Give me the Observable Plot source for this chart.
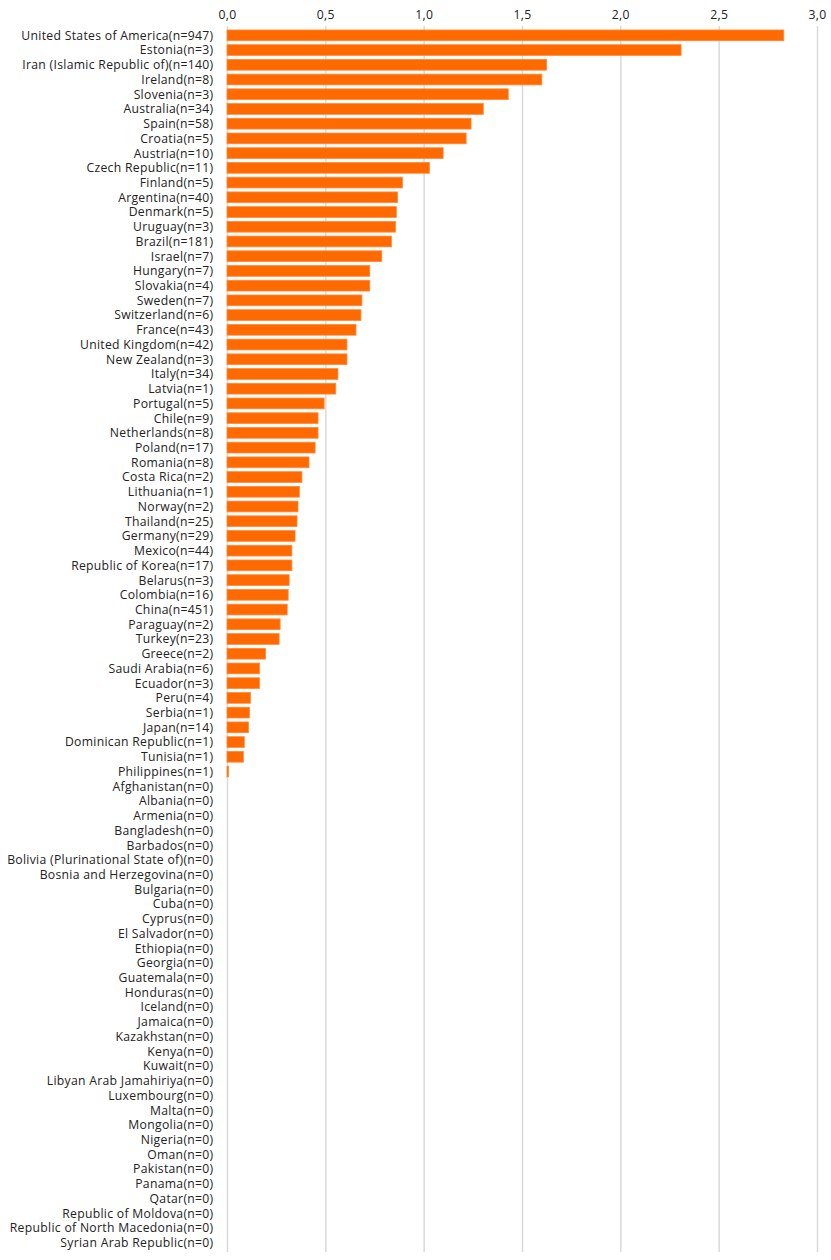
<!DOCTYPE html>
<html>
<head>
<meta charset="utf-8">
<script src="https://cdn.jsdelivr.net/npm/d3@7"></script>
<script src="https://cdn.jsdelivr.net/npm/@observablehq/plot@0.6"></script>
<style>
  html, body { margin: 0; padding: 0; background: #fff; }
  #chart svg { display: block; }
</style>
</head>
<body>
<div id="chart"></div>
<script>
const countries = [
  "United States of America","Estonia","Iran (Islamic Republic of)","Ireland","Slovenia","Australia","Spain","Croatia","Austria","Czech Republic",
  "Finland","Argentina","Denmark","Uruguay","Brazil","Israel","Hungary","Slovakia","Sweden","Switzerland",
  "France","United Kingdom","New Zealand","Italy","Latvia","Portugal","Chile","Netherlands","Poland","Romania",
  "Costa Rica","Lithuania","Norway","Thailand","Germany","Mexico","Republic of Korea","Belarus","Colombia","China",
  "Paraguay","Turkey","Greece","Saudi Arabia","Ecuador","Peru","Serbia","Japan","Dominican Republic","Tunisia",
  "Philippines","Afghanistan","Albania","Armenia","Bangladesh","Barbados","Bolivia (Plurinational State of)","Bosnia and Herzegovina","Bulgaria","Cuba",
  "Cyprus","El Salvador","Ethiopia","Georgia","Guatemala","Honduras","Iceland","Jamaica","Kazakhstan","Kenya",
  "Kuwait","Libyan Arab Jamahiriya","Luxembourg","Malta","Mongolia","Nigeria","Oman","Pakistan","Panama","Qatar",
  "Republic of Moldova","Republic of North Macedonia","Syrian Arab Republic"
];
const nValues = [
  947,3,140,8,3,34,58,5,10,11,
  5,40,5,3,181,7,7,4,7,6,
  43,42,3,34,1,5,9,8,17,8,
  2,1,2,25,29,44,17,3,16,451,
  2,23,2,6,3,4,1,14,1,1,
  1,0,0,0,0,0,0,0,0,0,
  0,0,0,0,0,0,0,0,0,0,
  0,0,0,0,0,0,0,0,0,0,
  0,0,0
];
const rates = [
  2.831,2.309,1.625,1.601,1.430,1.303,1.241,1.216,1.099,1.029,
  0.892,0.867,0.861,0.857,0.836,0.787,0.726,0.726,0.686,0.681,
  0.656,0.610,0.610,0.564,0.553,0.494,0.463,0.463,0.448,0.417,
  0.381,0.368,0.361,0.356,0.346,0.330,0.330,0.316,0.311,0.306,
  0.270,0.265,0.196,0.165,0.165,0.119,0.114,0.109,0.088,0.083,
  0.008,0,0,0,0,0,0,0,0,0,
  0,0,0,0,0,0,0,0,0,0,
  0,0,0,0,0,0,0,0,0,0,
  0,0,0
];
const xTicks = [0, 0.5, 1, 1.5, 2, 2.5, 3];

const data = countries.map((c, i) => ({label: `${c}(n=${nValues[i]})`, value: rates[i]}));
const labels = data.map(d => d.label);

const chart = Plot.plot({
  width: 831,
  height: 1260,
  marginLeft: 227,
  marginRight: 14,
  marginTop: 26,
  marginBottom: 8,
  style: {fontFamily: "'Open Sans', sans-serif", fontSize: "12.2px", letterSpacing: "0.3px", color: "#222", background: "#fff"},
  x: {domain: [0, 3], axis: "top", ticks: xTicks, tickFormat: d => d.toFixed(1).replace(".", ","), tickSize: 0, tickPadding: 8, label: null},
  y: {domain: labels, padding: 0.27, tickSize: 0, tickPadding: 14, label: null},
  marks: [
    Plot.gridX(xTicks, {stroke: "#d9d9d9", strokeOpacity: 1, strokeWidth: 1.5}),
    Plot.barX(data, {x: "value", y: "label", fill: "#ff6a00", stroke: "#ff8a3a", strokeWidth: 0.8})
  ]
});
chart.querySelectorAll('[aria-label="x-axis tick label"] text, [aria-label="y-axis tick label"] text').forEach(t => t.setAttribute("fill", "#222"));
document.getElementById("chart").appendChild(chart);
</script>
</body>
</html>
